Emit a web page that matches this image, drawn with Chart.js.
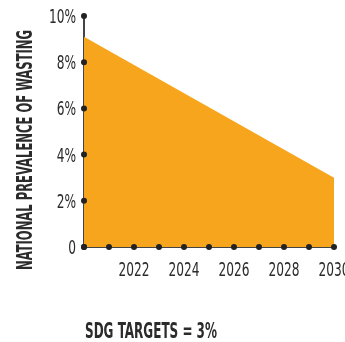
<!DOCTYPE html>
<html>
<head>
<meta charset="utf-8">
<script src="https://cdn.jsdelivr.net/npm/chart.js@4/dist/chart.umd.min.js"></script>
<style>
  html, body { margin: 0; padding: 0; background: #fff; overflow: hidden; }
  #wrap { position: relative; width: 360px; height: 342px; }
</style>
</head>
<body>
<div id="wrap"><canvas id="chart"></canvas></div>
<script>
// data
const years = [2020, 2030];
const wasting = [9.1, 3];
const xLabels = [2022, 2024, 2026, 2028, 2030];
const yTitle = 'NATIONAL PREVALENCE OF WASTING';
const footnote = 'SDG TARGETS = 3%';

const FONT = '"Liberation Sans Narrow", "DejaVu Sans Condensed", sans-serif';
const INK = '#2b2b2b';
const AXIS = '#444';

// draws text squeezed horizontally by factor k (the original uses a very condensed face)
const squeeze = (ctx, text, x, y, k, rotate) => {
    ctx.save();
    ctx.translate(x, y);
    if (rotate) ctx.rotate(-Math.PI / 2);
    ctx.scale(k, 1);
    ctx.fillText(text, 0, 0);
    ctx.restore();
};

const dotsAndText = {
    id: 'dotsAndText',
    afterDraw(chart) {
        const { ctx, chartArea, scales } = chart;
        ctx.save();

        // tick labels, from the scales' own ticks
        ctx.fillStyle = INK;
        ctx.font = '19px ' + FONT;
        const k = 31 / ctx.measureText('2022').width;
        ctx.textAlign = 'center';
        ctx.textBaseline = 'alphabetic';
        scales.x.ticks.forEach(t => {
            if (!t.label) return;
            squeeze(ctx, t.label, scales.x.getPixelForValue(t.value), chartArea.bottom + 29, k, false);
        });
        ctx.textAlign = 'right';
        scales.y.ticks.forEach(t => {
            squeeze(ctx, t.label, chartArea.left - 8, scales.y.getPixelForValue(t.value) + 7, k, false);
        });

        // dots on the axes
        ctx.fillStyle = '#222';
        scales.x.ticks.forEach(t => {
            ctx.beginPath();
            ctx.arc(scales.x.getPixelForValue(t.value), chartArea.bottom, 3, 0, Math.PI * 2);
            ctx.fill();
        });
        scales.y.ticks.forEach(t => {
            ctx.beginPath();
            ctx.arc(chartArea.left, scales.y.getPixelForValue(t.value), 3, 0, Math.PI * 2);
            ctx.fill();
        });

        // titles
        ctx.fillStyle = INK;
        ctx.textAlign = 'center';
        ctx.font = 'bold 22px ' + FONT;
        squeeze(ctx, yTitle, 32, 150, 240 / ctx.measureText(yTitle).width, true);
        ctx.font = 'bold 21px ' + FONT;
        squeeze(ctx, footnote, 151, 338, 132 / ctx.measureText(footnote).width, false);
        ctx.restore();
    }
};

new Chart(document.getElementById('chart'), {
    type: 'line',
    data: {
        datasets: [{
            label: 'Wasting',
            data: years.map((x, i) => ({ x: x, y: wasting[i] })),
            fill: 'origin',
            backgroundColor: '#f8a51e',
            borderWidth: 0,
            pointRadius: 0,
            tension: 0
        }]
    },
    options: {
        responsive: true,
        maintainAspectRatio: false,
        animation: false,
        layout: { padding: { left: 0, top: 16, right: 26, bottom: 0 } },
        plugins: { legend: { display: false }, tooltip: { enabled: false } },
        scales: {
            x: {
                type: 'linear',
                min: 2020,
                max: 2030,
                z: 1,
                grid: { display: false, drawTicks: false },
                border: { display: true, color: AXIS, width: 2 },
                ticks: {
                    display: false,
                    stepSize: 1,
                    autoSkip: false,
                    callback: v => xLabels.includes(v) ? String(v) : ''
                },
                afterFit: s => { s.height = 95; }
            },
            y: {
                min: 0,
                max: 10,
                z: 1,
                grid: { display: false, drawTicks: false },
                border: { display: true, color: AXIS, width: 2 },
                ticks: {
                    display: false,
                    stepSize: 2,
                    callback: v => v === 0 ? '0' : v + '%'
                },
                afterFit: s => { s.width = 84; }
            }
        }
    },
    plugins: [dotsAndText]
});
</script>
</body>
</html>
